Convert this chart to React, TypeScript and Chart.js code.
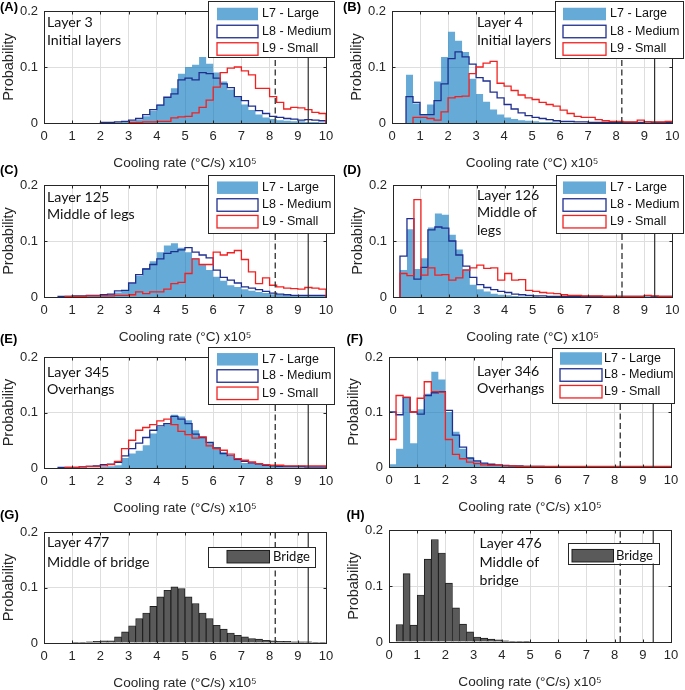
import React, { useEffect, useRef } from 'react';
import { Chart, registerables } from 'chart.js';

Chart.register(...registerables);

// ---------------- data ----------------
const BIN_WIDTH = 0.25;
const X_MIN = 0;
const X_MAX = 10;
const X_STEP = 1;
const Y_MIN = 0;
const Y_MAX = 0.2;
const Y_STEP = 0.1;
const DASHED_X = 8.2;
const SOLID_X = 9.37;

const SERIES_NAMES = ['L7 - Large', 'L8 - Medium', 'L9 - Small'];
const BRIDGE_NAME = 'Bridge';
const X_TITLE_S = 'Cooling rate (°C/s) x10⁵';
const X_TITLE_C = 'Cooling rate (°C) x10⁵';
const Y_TITLE = 'Probability';

// (A) Layer 3
const A_L7_FROM = 2.5;
const A_L7 = [0.001, 0.002, 0.003, 0.006, 0.012, 0.022, 0.033, 0.045, 0.062, 0.088, 0.1, 0.104, 0.118, 0.106, 0.09, 0.074, 0.06, 0.046, 0.033, 0.023, 0.015, 0.01, 0.007, 0.005, 0.004, 0.003, 0.003, 0.002, 0.002, 0.001];
const A_L8_FROM = 2.0;
const A_L8 = [0.001, 0.001, 0.002, 0.003, 0.005, 0.008, 0.015, 0.024, 0.032, 0.046, 0.052, 0.077, 0.08, 0.077, 0.09, 0.088, 0.08, 0.07, 0.063, 0.047, 0.04, 0.03, 0.022, 0.017, 0.012, 0.01, 0.008, 0.007, 0.005, 0.006, 0.005, 0.004];
const A_L9_FROM = 3.0;
const A_L9 = [0.001, 0.001, 0.002, 0.002, 0.003, 0.003, 0.009, 0.011, 0.012, 0.018, 0.028, 0.041, 0.064, 0.09, 0.098, 0.1, 0.093, 0.086, 0.062, 0.062, 0.047, 0.037, 0.025, 0.028, 0.027, 0.024, 0.019, 0.017];

// (B) Layer 4
const B_L7_FROM = 0.5;
const B_L7 = [0.086, 0.035, 0.016, 0.033, 0.074, 0.118, 0.163, 0.147, 0.127, 0.079, 0.052, 0.038, 0.024, 0.015, 0.01, 0.007, 0.005, 0.004, 0.003, 0.002, 0.002, 0.001, 0.001, 0.001];
const B_L8_FROM = 0.5;
const B_L8 = [0.047, 0.037, 0.015, 0.015, 0.04, 0.07, 0.115, 0.127, 0.118, 0.105, 0.081, 0.075, 0.055, 0.045, 0.033, 0.025, 0.018, 0.013, 0.01, 0.008, 0.006, 0.004, 0.003, 0.003, 0.002, 0.002, 0.001, 0.001, 0.001, 0.001, 0.001, 0.001, 0.001, 0.001, 0.002, 0.001, 0.001, 0.001];
const B_L9_FROM = 0.75;
const B_L9 = [0.01, 0.01, 0.008, 0.005, 0.02, 0.045, 0.047, 0.048, 0.088, 0.1, 0.107, 0.11, 0.071, 0.066, 0.058, 0.05, 0.045, 0.042, 0.037, 0.033, 0.03, 0.023, 0.017, 0.012, 0.01, 0.01, 0.006, 0.004, 0.003, 0.003, 0.002, 0.002, 0.005, 0.002, 0.002, 0.002, 0.003];

// (C) Layer 125
const C_L7_FROM = 1.0;
const C_L7 = [0.001, 0.001, 0.002, 0.003, 0.004, 0.005, 0.008, 0.012, 0.024, 0.038, 0.052, 0.064, 0.08, 0.092, 0.096, 0.088, 0.08, 0.069, 0.058, 0.048, 0.036, 0.029, 0.021, 0.018, 0.014, 0.011, 0.009, 0.007, 0.005, 0.004, 0.003, 0.003, 0.002, 0.002, 0.002, 0.002];
const C_L8_FROM = 0.5;
const C_L8 = [0.001, 0.001, 0.002, 0.002, 0.003, 0.003, 0.004, 0.005, 0.011, 0.012, 0.025, 0.04, 0.05, 0.058, 0.068, 0.078, 0.081, 0.084, 0.088, 0.08, 0.075, 0.07, 0.048, 0.035, 0.03, 0.025, 0.018, 0.016, 0.013, 0.01, 0.007, 0.005, 0.004, 0.003, 0.003, 0.003, 0.003, 0.003];
const C_L9_FROM = 0.75;
const C_L9 = [0.001, 0.001, 0.001, 0.002, 0.002, 0.002, 0.002, 0.003, 0.003, 0.004, 0.009, 0.006, 0.009, 0.009, 0.014, 0.024, 0.026, 0.042, 0.068, 0.058, 0.058, 0.08, 0.075, 0.079, 0.083, 0.067, 0.045, 0.024, 0.034, 0.021, 0.018, 0.016, 0.015, 0.014, 0.017, 0.016, 0.014];

// (D) Layer 126
const D_L7_FROM = 0.25;
const D_L7 = [0.048, 0.121, 0.05, 0.069, 0.124, 0.149, 0.147, 0.111, 0.085, 0.05, 0.022, 0.014, 0.01, 0.006, 0.004, 0.003, 0.002, 0.001, 0.001, 0.001];
const D_L8_FROM = 0.25;
const D_L8 = [0.073, 0.14, 0.032, 0.053, 0.12, 0.125, 0.123, 0.1, 0.075, 0.055, 0.035, 0.022, 0.017, 0.013, 0.01, 0.008, 0.005, 0.004, 0.003, 0.002, 0.002, 0.001, 0.001, 0.001, 0.001, 0.001, 0.001, 0.001, 0.001, 0.001, 0.001, 0.001, 0.001, 0.001, 0.001, 0.002, 0.001, 0.001, 0.001];
const D_L9_FROM = 0.25;
const D_L9 = [0.042, 0.038, 0.174, 0.039, 0.052, 0.039, 0.04, 0.03, 0.034, 0.048, 0.052, 0.057, 0.051, 0.052, 0.03, 0.042, 0.03, 0.031, 0.012, 0.01, 0.008, 0.007, 0.006, 0.004, 0.003, 0.003, 0.002, 0.002, 0.002, 0.001, 0.001, 0.001, 0.001, 0.001, 0.001, 0.003, 0.002, 0.001, 0.001];

// (E) Layer 345
const E_L7_FROM = 1.5;
const E_L7 = [0.001, 0.001, 0.002, 0.003, 0.005, 0.018, 0.026, 0.031, 0.041, 0.062, 0.074, 0.079, 0.096, 0.093, 0.086, 0.068, 0.055, 0.045, 0.037, 0.029, 0.02, 0.014, 0.009, 0.007, 0.006, 0.005, 0.004, 0.003, 0.003, 0.002, 0.002, 0.002, 0.002, 0.002];
const E_L8_FROM = 0.5;
const E_L8 = [0.001, 0.001, 0.001, 0.002, 0.003, 0.004, 0.006, 0.007, 0.01, 0.022, 0.035, 0.045, 0.055, 0.068, 0.076, 0.08, 0.093, 0.088, 0.08, 0.061, 0.055, 0.046, 0.036, 0.026, 0.022, 0.015, 0.012, 0.009, 0.007, 0.005, 0.004, 0.003, 0.003, 0.003, 0.003, 0.002, 0.002, 0.002];
const E_L9_FROM = 0.75;
const E_L9 = [0.001, 0.001, 0.002, 0.003, 0.003, 0.004, 0.006, 0.012, 0.035, 0.05, 0.068, 0.073, 0.078, 0.085, 0.088, 0.078, 0.066, 0.06, 0.054, 0.056, 0.04, 0.035, 0.032, 0.025, 0.017, 0.014, 0.011, 0.008, 0.006, 0.005, 0.005, 0.004, 0.004, 0.004, 0.004, 0.004, 0.004];

// (F) Layer 346
const F_L7_FROM = 0;
const F_L7 = [0.005, 0.033, 0.125, 0.043, 0.105, 0.133, 0.173, 0.159, 0.1, 0.064, 0.033, 0.018, 0.011, 0.007, 0.004, 0.003, 0.002, 0.002, 0.001, 0.001];
const F_L8_FROM = 0;
const F_L8 = [0.1, 0.095, 0.126, 0.1, 0.096, 0.13, 0.135, 0.137, 0.103, 0.058, 0.036, 0.016, 0.011, 0.007, 0.005, 0.004, 0.003, 0.002, 0.002, 0.001, 0.001, 0.001];
const F_L9_FROM = 0;
const F_L9 = [0.05, 0.13, 0.127, 0.1, 0.125, 0.155, 0.137, 0.136, 0.05, 0.023, 0.015, 0.009, 0.006, 0.004, 0.003, 0.003, 0.002, 0.002, 0.001, 0.001, 0.001, 0.001, 0.001, 0.001, 0.001, 0.001, 0.001, 0.001, 0.001, 0.001, 0.001, 0.001, 0.001, 0.001, 0.001, 0.001, 0.001, 0.001, 0.001, 0.001];

// (G) Layer 477 bridge
const G_FROM = 1.0;
const G_BRIDGE = [0.001, 0.001, 0.002, 0.003, 0.004, 0.004, 0.011, 0.02, 0.031, 0.044, 0.054, 0.066, 0.083, 0.095, 0.101, 0.098, 0.083, 0.071, 0.054, 0.044, 0.032, 0.025, 0.018, 0.014, 0.011, 0.008, 0.007, 0.005, 0.004, 0.003, 0.003, 0.002, 0.002, 0.002, 0.001, 0.001];

// (H) Layer 476 bridge
const H_FROM = 0.25;
const H_BRIDGE = [0.031, 0.122, 0.03, 0.084, 0.148, 0.183, 0.159, 0.105, 0.061, 0.032, 0.018, 0.009, 0.007, 0.005, 0.004, 0.002, 0.001, 0.001, 0.0005];

// ---------------- styles ----------------
const COL_L7 = 'rgba(0,114,189,0.6)';
const COL_L8 = '#1f2f90';
const COL_L9 = '#f42020';
const COL_BAR = '#5a5a5a';
const COL_BAR_EDGE = '#1c1c1c';
const COL_AXIS = '#262626';
const COL_GRID = '#dedede';
const COL_REF = '#2e2e2e';
const SANS = '"Liberation Sans", Arial, Helvetica, sans-serif';
const NOTE_FAMILY = 'Lato, "Open Sans", sans-serif';

const Y_AXIS_W = 44;
const X_AXIS_H = 48;
const TOP_PAD = 24;
const BOTTOM_H = 52;
const CANVAS_W = 347;

type Hist = { from: number; vals: number[] };

const PANELS: any[] = [
  {
    id: 'A', col: 0, plot: { l: 44, t: 11, w: 282, h: 112 }, xTitle: X_TITLE_S,
    label: { x: 0, y: 7 }, note: { x: 47, ys: [22, 40], lines: ['Layer 3', 'Initial layers'] },
    legend: { x: 208, y: 1, w: 126, h: 56, ys: [14, 31.5, 49], sx: 217, sw: 41, tx: 262 },
    series: [{ from: A_L7_FROM, vals: A_L7 }, { from: A_L8_FROM, vals: A_L8 }, { from: A_L9_FROM, vals: A_L9 }],
  },
  {
    id: 'B', col: 1, plot: { l: 392, t: 11, w: 282, h: 112 }, xTitle: X_TITLE_C,
    label: { x: 343, y: 7 }, note: { x: 477, ys: [22, 40], lines: ['Layer 4', 'Initial layers'] },
    legend: { x: 555, y: 1, w: 128, h: 57, ys: [14, 31.5, 49], sx: 563, sw: 43, tx: 610 },
    series: [{ from: B_L7_FROM, vals: B_L7 }, { from: B_L8_FROM, vals: B_L8 }, { from: B_L9_FROM, vals: B_L9 }],
  },
  {
    id: 'C', col: 0, plot: { l: 44, t: 185, w: 282, h: 112 }, xTitle: X_TITLE_C,
    label: { x: 0, y: 170 }, note: { x: 47, ys: [197, 214.5], lines: ['Layer 125', 'Middle of legs'] },
    legend: { x: 208, y: 175, w: 126, h: 58, ys: [187.7, 205, 221.7], sx: 217, sw: 41, tx: 262 },
    series: [{ from: C_L7_FROM, vals: C_L7 }, { from: C_L8_FROM, vals: C_L8 }, { from: C_L9_FROM, vals: C_L9 }],
  },
  {
    id: 'D', col: 1, plot: { l: 393, t: 185, w: 282, h: 112 }, xTitle: X_TITLE_C,
    label: { x: 343, y: 170 }, note: { x: 477, ys: [195, 212.7, 230], lines: ['Layer 126', 'Middle of', 'legs'] },
    legend: { x: 556, y: 175, w: 127, h: 58, ys: [187.7, 205, 221.7], sx: 563, sw: 43, tx: 610 },
    series: [{ from: D_L7_FROM, vals: D_L7 }, { from: D_L8_FROM, vals: D_L8 }, { from: D_L9_FROM, vals: D_L9 }],
  },
  {
    id: 'E', col: 0, plot: { l: 44, t: 357, w: 282, h: 111 }, xTitle: X_TITLE_S,
    label: { x: 0, y: 339 }, note: { x: 47, ys: [372, 389.5], lines: ['Layer 345', 'Overhangs'] },
    legend: { x: 208, y: 347, w: 126, h: 57, ys: [359.3, 376, 393.3], sx: 217, sw: 41, tx: 262 },
    series: [{ from: E_L7_FROM, vals: E_L7 }, { from: E_L8_FROM, vals: E_L8 }, { from: E_L9_FROM, vals: E_L9 }],
  },
  {
    id: 'F', col: 1, plot: { l: 389, t: 357, w: 282, h: 110 }, xTitle: X_TITLE_S,
    label: { x: 346.5, y: 339 }, note: { x: 477, ys: [371, 388.5], lines: ['Layer 346', 'Overhangs'] },
    legend: { x: 552, y: 348, w: 122, h: 55, ys: [358.5, 375, 391.7], sx: 560, sw: 42, tx: 604 },
    series: [{ from: F_L7_FROM, vals: F_L7 }, { from: F_L8_FROM, vals: F_L8 }, { from: F_L9_FROM, vals: F_L9 }],
  },
  {
    id: 'G', col: 0, plot: { l: 44, t: 532, w: 282, h: 111 }, xTitle: X_TITLE_S,
    label: { x: 0, y: 515 }, note: { x: 47, ys: [542, 562], lines: ['Layer 477', 'Middle of bridge'] },
    legend: { x: 208, y: 547, w: 107, h: 20, ys: [556.7], sx: 227, sw: 42.5, tx: 273 },
    bridge: { from: G_FROM, vals: G_BRIDGE },
  },
  {
    id: 'H', col: 1, plot: { l: 389, t: 530, w: 282, h: 112 }, xTitle: X_TITLE_S,
    label: { x: 346.5, y: 515 }, note: { x: 479.5, ys: [543.5, 562, 580], lines: ['Layer 476', 'Middle of', 'bridge'] },
    legend: { x: 568, y: 543, w: 90.5, h: 20.5, ys: [555.7], sx: 572, sw: 41.5, tx: 616 },
    bridge: { from: H_FROM, vals: H_BRIDGE },
  },
];

function stairsPoints(h: Hist) {
  const pts: { x: number; y: number }[] = [{ x: h.from, y: 0 }];
  h.vals.forEach((v, i) => pts.push({ x: h.from + i * BIN_WIDTH, y: v }));
  pts.push({ x: h.from + h.vals.length * BIN_WIDTH, y: 0 });
  return pts;
}

function barPoints(h: Hist) {
  return h.vals.map((v, i) => ({ x: h.from + (i + 0.5) * BIN_WIDTH, y: v }));
}

function makeDecor(def: any, cx: number, cy: number) {
  return {
    id: 'decor' + def.id,
    afterDatasetsDraw(chart: any) {
      const ctx = chart.ctx;
      const { left, top, right, bottom } = chart.chartArea;
      ctx.save();
      ctx.strokeStyle = COL_AXIS;
      ctx.lineWidth = 1;
      ctx.setLineDash([]);
      const L = Math.round(left) + 0.5;
      const R = Math.round(right) + 0.5;
      const T = Math.round(top) + 0.5;
      const B = Math.round(bottom) + 0.5;
      ctx.strokeRect(L, T, R - L, B - T);
      ctx.beginPath();
      const xs = chart.scales.x;
      for (let v = X_MIN + X_STEP; v < X_MAX; v += X_STEP) {
        const p = Math.round(xs.getPixelForValue(v)) + 0.5;
        ctx.moveTo(p, B); ctx.lineTo(p, B - 3);
        ctx.moveTo(p, T); ctx.lineTo(p, T + 3);
      }
      const ys = chart.scales.y;
      for (let v = Y_MIN + Y_STEP; v < Y_MAX - 1e-9; v += Y_STEP) {
        const p = Math.round(ys.getPixelForValue(v)) + 0.5;
        ctx.moveTo(L, p); ctx.lineTo(L + 3, p);
        ctx.moveTo(R, p); ctx.lineTo(R - 3, p);
      }
      ctx.stroke();
      ctx.restore();
    },
    afterDraw(chart: any) {
      const ctx = chart.ctx;
      ctx.save();
      ctx.translate(-cx, -cy);
      ctx.textBaseline = 'middle';
      ctx.textAlign = 'left';
      ctx.fillStyle = '#000';
      ctx.font = 'bold 13px ' + SANS;
      ctx.fillText('(' + def.id + ')', def.label.x, def.label.y);
      ctx.font = '14.2px ' + NOTE_FAMILY;
      ctx.fillStyle = '#111';
      def.note.lines.forEach((t: string, i: number) => ctx.fillText(t, def.note.x, def.note.ys[i]));
      const lg = def.legend;
      ctx.fillStyle = '#fff';
      ctx.fillRect(lg.x, lg.y, lg.w, lg.h);
      ctx.strokeStyle = COL_AXIS;
      ctx.lineWidth = 1;
      ctx.strokeRect(Math.round(lg.x) + 0.5, Math.round(lg.y) + 0.5, Math.round(lg.w), Math.round(lg.h));
      const sh = 12.5;
      if (def.bridge) {
        const y = lg.ys[0];
        ctx.fillStyle = COL_BAR;
        ctx.fillRect(lg.sx, y - sh / 2, lg.sw, sh);
        ctx.strokeStyle = COL_BAR_EDGE;
        ctx.lineWidth = 1;
        ctx.strokeRect(lg.sx, y - sh / 2, lg.sw, sh);
        ctx.fillStyle = '#111';
        ctx.font = '13px ' + NOTE_FAMILY;
        ctx.fillText(BRIDGE_NAME, lg.tx, y);
      } else {
        SERIES_NAMES.forEach((name, i) => {
          const y = lg.ys[i];
          if (i === 0) {
            ctx.fillStyle = COL_L7;
            ctx.fillRect(lg.sx, y - sh / 2, lg.sw, sh);
          } else {
            ctx.fillStyle = '#fff';
            ctx.fillRect(lg.sx, y - sh / 2, lg.sw, sh);
            ctx.strokeStyle = i === 1 ? COL_L8 : COL_L9;
            ctx.lineWidth = 1.3;
            ctx.strokeRect(lg.sx, y - sh / 2, lg.sw, sh);
          }
          ctx.fillStyle = '#111';
          ctx.font = '12.5px ' + SANS;
          ctx.fillText(name, lg.tx, y);
        });
      }
      ctx.restore();
    },
  };
}

function Panel({ def }: { def: any }) {
  const ref = useRef<HTMLCanvasElement>(null);
  const cx = def.col === 0 ? 0 : 338;
  const cw = CANVAS_W;
  const cy = def.plot.t - TOP_PAD;
  const ch = def.plot.h + TOP_PAD + BOTTOM_H;

  useEffect(() => {
    const canvas = ref.current;
    if (!canvas) return;
    const datasets: any[] = [
      {
        type: 'line', data: [{ x: DASHED_X, y: Y_MIN }, { x: DASHED_X, y: Y_MAX }],
        borderColor: COL_REF, borderWidth: 1.3, borderDash: [6, 3.5], pointRadius: 0, fill: false, order: 0,
      },
      {
        type: 'line', data: [{ x: SOLID_X, y: Y_MIN }, { x: SOLID_X, y: Y_MAX }],
        borderColor: COL_REF, borderWidth: 1.2, pointRadius: 0, fill: false, order: 0,
      },
    ];
    if (def.bridge) {
      datasets.push({
        type: 'bar', label: BRIDGE_NAME, data: barPoints(def.bridge),
        backgroundColor: COL_BAR, borderColor: COL_BAR_EDGE, borderWidth: 0.9,
        barPercentage: 1, categoryPercentage: 1, grouped: false, order: 3,
      });
    } else {
      const [s7, s8, s9] = def.series;
      datasets.push({
        type: 'line', label: SERIES_NAMES[0], data: stairsPoints(s7), stepped: true, fill: 'origin',
        backgroundColor: COL_L7, borderColor: 'rgba(0,0,0,0)', borderWidth: 1, pointRadius: 0, order: 3,
      });
      datasets.push({
        type: 'line', label: SERIES_NAMES[1], data: stairsPoints(s8), stepped: true, fill: false,
        borderColor: COL_L8, borderWidth: 1.3, pointRadius: 0, order: 2,
      });
      datasets.push({
        type: 'line', label: SERIES_NAMES[2], data: stairsPoints(s9), stepped: true, fill: false,
        borderColor: COL_L9, borderWidth: 1.3, pointRadius: 0, order: 1,
      });
    }
    const plotLeftInCanvas = def.plot.l - cx;
    const chart = new Chart(canvas, {
      type: def.bridge ? 'bar' : 'line',
      data: { datasets },
      options: {
        responsive: false,
        animation: false,
        events: [],
        layout: {
          padding: {
            left: plotLeftInCanvas - Y_AXIS_W,
            right: cw - (plotLeftInCanvas + def.plot.w),
            top: TOP_PAD,
            bottom: ch - TOP_PAD - def.plot.h - X_AXIS_H,
          },
        },
        plugins: { legend: { display: false }, tooltip: { enabled: false } },
        scales: {
          x: {
            type: 'linear', min: X_MIN, max: X_MAX, offset: false,
            ticks: { stepSize: X_STEP, font: { family: SANS, size: 13 }, color: COL_AXIS, padding: 5.5, maxRotation: 0, autoSkip: false },
            grid: { color: COL_GRID, lineWidth: 1, drawTicks: false, offset: false },
            border: { display: false },
            title: { display: true, text: def.xTitle, font: { family: SANS, size: 13.6 }, color: COL_AXIS, padding: 0 },
            afterFit: (s: any) => { s.height = X_AXIS_H; },
          },
          y: {
            type: 'linear', min: Y_MIN, max: Y_MAX,
            ticks: { stepSize: Y_STEP, font: { family: SANS, size: 13 }, color: COL_AXIS, padding: 6 },
            grid: { color: COL_GRID, lineWidth: 1, drawTicks: false },
            border: { display: false },
            title: { display: true, text: Y_TITLE, font: { family: SANS, size: 14.5 }, color: COL_AXIS, padding: 0 },
            afterFit: (s: any) => { s.width = Y_AXIS_W; },
          },
        },
      } as any,
      plugins: [makeDecor(def, cx, cy)],
    } as any);
    return () => chart.destroy();
  }, []);

  return (
    <canvas
      ref={ref}
      width={cw}
      height={ch}
      style={{ position: 'absolute', left: cx, top: cy, width: cw, height: ch }}
    />
  );
}

export default function App() {
  return (
    <div style={{ position: 'absolute', left: 0, top: 0, width: 685, height: 690, overflow: 'hidden', background: '#fff' }}>
      {PANELS.map((p) => (
        <Panel key={p.id} def={p} />
      ))}
    </div>
  );
}
